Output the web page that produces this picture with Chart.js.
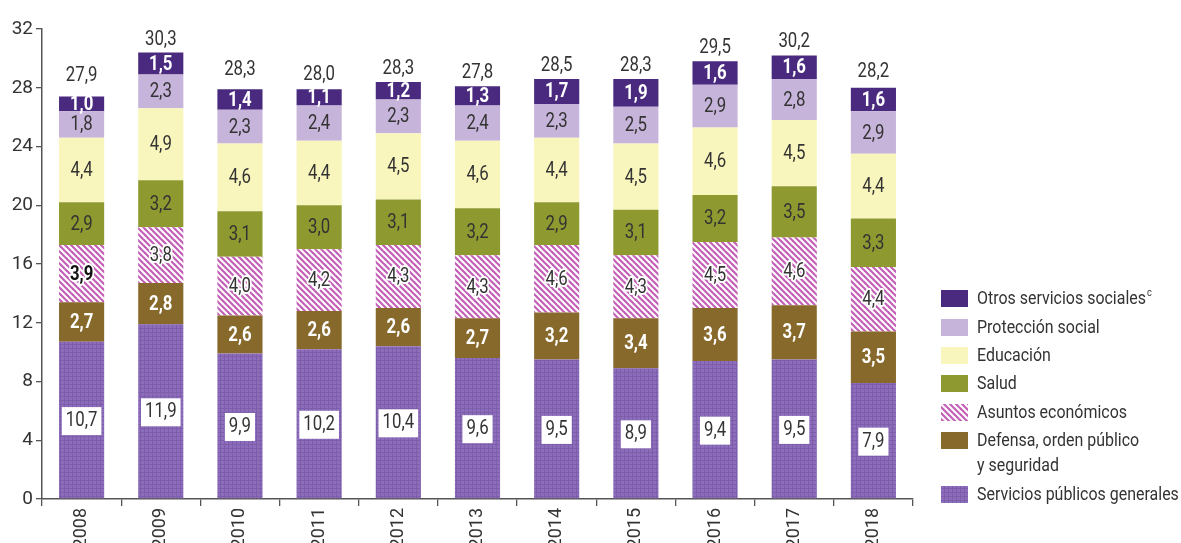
<!DOCTYPE html>
<html>
<head>
<meta charset="utf-8">
<script src="https://cdn.jsdelivr.net/npm/chart.js@4.4.1/dist/chart.umd.min.js"></script>
<style>
  html, body { margin: 0; padding: 0; background: #fff; }
  #wrap { width: 1181px; height: 543px; position: relative; }
</style>
</head>
<body>
<div id="wrap"><canvas id="myChart"></canvas></div>
<script>
// years on the x axis
const years = ['2008', '2009', '2010', '2011', '2012', '2013', '2014', '2015', '2016', '2017', '2018'];

// stacked from bottom to top
const serviciosPublicos = [10.7, 11.9, 9.9, 10.2, 10.4, 9.6, 9.5, 8.9, 9.4, 9.5, 7.9];
const defensa = [2.7, 2.8, 2.6, 2.6, 2.6, 2.7, 3.2, 3.4, 3.6, 3.7, 3.5];
const asuntosEconomicos = [3.9, 3.8, 4.0, 4.2, 4.3, 4.3, 4.6, 4.3, 4.5, 4.6, 4.4];
const salud = [2.9, 3.2, 3.1, 3.0, 3.1, 3.2, 2.9, 3.1, 3.2, 3.5, 3.3];
const educacion = [4.4, 4.9, 4.6, 4.4, 4.5, 4.6, 4.4, 4.5, 4.6, 4.5, 4.4];
const proteccionSocial = [1.8, 2.3, 2.3, 2.4, 2.3, 2.4, 2.3, 2.5, 2.9, 2.8, 2.9];
const otrosServicios = [1.0, 1.5, 1.4, 1.1, 1.2, 1.3, 1.7, 1.9, 1.6, 1.6, 1.6];

// totals printed above each bar
const totals = [27.9, 30.3, 28.3, 28.0, 28.3, 27.8, 28.5, 28.3, 29.5, 30.2, 28.2];

const yTicks = [0, 4, 8, 12, 16, 20, 24, 28, 32];

const FONT = "Roboto, 'Liberation Sans', sans-serif";
const TEXT = '#333333';
const SQUEEZE = 0.84; // the original uses a condensed face

function fmt(v) {
    return v.toFixed(1).replace('.', ',');
}

// draw text squeezed horizontally
function narrowText(ctx, t, x, y, mode) {
    ctx.save();
    ctx.translate(x, y);
    ctx.scale(SQUEEZE, 1);
    if (mode === 'stroke') ctx.strokeText(t, 0, 0);
    else ctx.fillText(t, 0, 0);
    ctx.restore();
}

// little textures for the patterned series
function gridPattern() {
    const c = document.createElement('canvas');
    c.width = 4; c.height = 4;
    const g = c.getContext('2d');
    g.fillStyle = '#8d6dbb';
    g.fillRect(0, 0, 4, 4);
    g.fillStyle = '#7d5eab';
    g.fillRect(0, 0, 4, 1);
    g.fillRect(0, 0, 1, 4);
    return document.createElement('canvas').getContext('2d').createPattern(c, 'repeat');
}

function stripePattern() {
    const c = document.createElement('canvas');
    c.width = 6; c.height = 6;
    const g = c.getContext('2d');
    g.fillStyle = '#ffffff';
    g.fillRect(0, 0, 6, 6);
    g.strokeStyle = '#c25fb6';
    g.lineWidth = 2.2;
    for (let k = -1; k <= 1; k++) {
        g.beginPath();
        g.moveTo(k * 6 - 1, -1);
        g.lineTo(k * 6 + 7, 7);
        g.stroke();
    }
    return document.createElement('canvas').getContext('2d').createPattern(c, 'repeat');
}

const series = [
    { label: 'Servicios públicos generales', data: serviciosPublicos, color: gridPattern(), text: 'box' },
    { label: 'Defensa, orden público|y seguridad', data: defensa, color: '#87692b', text: 'white' },
    { label: 'Asuntos económicos', data: asuntosEconomicos, color: stripePattern(), text: 'halo' },
    { label: 'Salud', data: salud, color: '#8e9a2f', text: 'dark' },
    { label: 'Educación', data: educacion, color: '#f8f6bc', text: 'dark' },
    { label: 'Protección social', data: proteccionSocial, color: '#c7b4da', text: 'dark' },
    { label: 'Otros servicios sociales', data: otrosServicios, color: '#4a2a7e', text: 'white' }
];

const labelPlugin = {
    id: 'segLabels',
    afterDatasetsDraw(chart) {
        const ctx = chart.ctx;
        const yScale = chart.scales.y;
        ctx.save();
        ctx.textAlign = 'center';
        ctx.textBaseline = 'middle';
        chart.data.datasets.forEach((ds, i) => {
            const meta = chart.getDatasetMeta(i);
            meta.data.forEach((bar, j) => {
                const v = ds.data[j];
                const cy = (bar.y + bar.base) / 2 + 1;
                const t = fmt(v);
                const kind = series[i].text;
                if (kind === 'white') {
                    ctx.font = 'bold 20px ' + FONT;
                    ctx.fillStyle = '#ffffff';
                    narrowText(ctx, t, bar.x, cy);
                } else if (kind === 'box') {
                    ctx.font = '20px ' + FONT;
                    const w = ctx.measureText(t).width * SQUEEZE + 8;
                    ctx.fillStyle = '#ffffff';
                    ctx.fillRect(bar.x - w / 2, cy - 14, w, 28);
                    ctx.fillStyle = TEXT;
                    narrowText(ctx, t, bar.x, cy);
                } else if (kind === 'halo') {
                    ctx.font = (j === 0 ? 'bold ' : '') + '20px ' + FONT;
                    ctx.lineWidth = 4;
                    ctx.strokeStyle = '#ffffff';
                    ctx.lineJoin = 'round';
                    narrowText(ctx, t, bar.x, cy, 'stroke');
                    ctx.fillStyle = j === 0 ? '#111' : TEXT;
                    narrowText(ctx, t, bar.x, cy);
                } else {
                    ctx.font = '20px ' + FONT;
                    ctx.fillStyle = TEXT;
                    narrowText(ctx, t, bar.x, cy);
                }
            });
        });
        // totals
        const topMeta = chart.getDatasetMeta(chart.data.datasets.length - 1);
        ctx.font = '20px ' + FONT;
        ctx.fillStyle = TEXT;
        ctx.textBaseline = 'bottom';
        topMeta.data.forEach((bar, j) => {
            const y = Math.min(bar.y, yScale.getPixelForValue(totals[j])) - 3;
            narrowText(ctx, fmt(totals[j]), bar.x, y);
        });
        ctx.restore();
    }
};

const legendPlugin = {
    id: 'sideLegend',
    afterDraw(chart) {
        const ctx = chart.ctx;
        const order = [6, 5, 4, 3, 2, 1, 0];
        const rows = [298, 327, 355, 383, 412, 440, 494];
        ctx.save();
        ctx.font = '19px ' + FONT;
        ctx.textBaseline = 'middle';
        ctx.textAlign = 'left';
        order.forEach((idx, k) => {
            const y = rows[k];
            ctx.fillStyle = series[idx].color;
            ctx.fillRect(941, y - 8, 27, 17);
            ctx.fillStyle = TEXT;
            const lines = series[idx].label.split('|');
            lines.forEach((ln, n) => narrowText(ctx, ln, 977, y + 1 + n * 25));
            if (idx === 6) {
                const w = ctx.measureText(lines[0]).width * SQUEEZE;
                ctx.font = '11px ' + FONT;
                narrowText(ctx, 'c', 977 + w + 1, y - 5);
                ctx.font = '19px ' + FONT;
            }
        });
        ctx.restore();
    }
};

const ctx = document.getElementById('myChart');
const myChart = new Chart(ctx, {
    type: 'bar',
    data: {
        labels: years,
        datasets: series.map(s => ({
            label: s.label,
            data: s.data,
            backgroundColor: s.color,
            borderWidth: 0,
            barPercentage: 1,
            categoryPercentage: 0.57
        }))
    },
    plugins: [labelPlugin, legendPlugin],
    options: {
        responsive: true,
        maintainAspectRatio: false,
        animation: false,
        layout: { padding: { top: 29, right: 268, left: 0, bottom: 0 } },
        plugins: {
            legend: { display: false },
            tooltip: { enabled: false }
        },
        scales: {
            x: {
                stacked: true,
                afterFit(s) { s.height = 44; },
                grid: { drawOnChartArea: false, offset: true, tickLength: 7, color: '#555', lineWidth: 1.3 },
                border: { color: '#555', width: 1.5 },
                ticks: { color: TEXT, font: { family: FONT, size: 18 }, maxRotation: 90, minRotation: 90, padding: 2 }
            },
            y: {
                stacked: true,
                min: 0,
                max: 32,
                afterFit(s) { s.width = 42; },
                afterBuildTicks(s) { s.ticks = yTicks.map(v => ({ value: v })); },
                grid: { drawOnChartArea: false, tickLength: 6, color: '#555', lineWidth: 1.3 },
                border: { color: '#555', width: 1.5 },
                ticks: { color: TEXT, font: { family: FONT, size: 19 }, padding: 3 }
            }
        }
    }
});
</script>
</body>
</html>
